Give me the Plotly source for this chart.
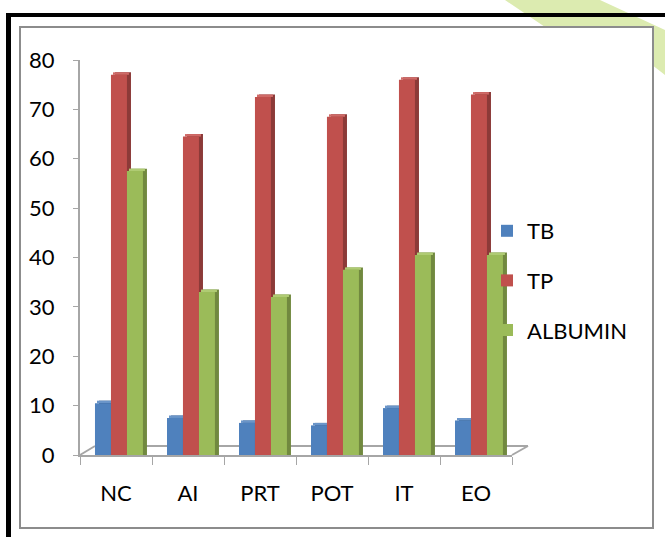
import plotly.graph_objects as go

# Liver function markers per treatment group
groups = ["NC", "AI", "PRT", "POT", "IT", "EO"]
tb = [10.5, 7.5, 6.5, 6.0, 9.5, 7.0]
tp = [77.0, 64.5, 72.5, 68.5, 76.0, 73.0]
albumin = [57.5, 33.0, 32.0, 37.5, 40.5, 40.5]
series_names = ["TB", "TP", "ALBUMIN"]
y_ticks = [0, 10, 20, 30, 40, 50, 60, 70, 80]

FRONT = ["#4F81BD", "#C0504D", "#9BBB59"]
SIDE = ["#385D8A", "#8C3A38", "#71893F"]
TOP = ["#6A95C9", "#CF6A67", "#AFCB73"]

# canvas geometry (px)
W, H = 665, 537
L, R, T, B = 80, 512, 60, 455
PW, PH = R - L, B - T


def px(x):
    return (x - L) / PW


def py(y):
    return (B - y) / PH


BAR_W = 0.222
OFFSETS = [-0.292, -0.070, 0.152]
DEPTH_X = 0.056
DEPTH_Y = 0.5

fig = go.Figure()
for i, (name, vals) in enumerate(zip(series_names, [tb, tp, albumin])):
    # right-hand side face
    fig.add_trace(go.Bar(
        x=groups, y=[v + DEPTH_Y for v in vals], width=BAR_W,
        offset=OFFSETS[i] + DEPTH_X, marker=dict(color=SIDE[i], line_width=0),
        showlegend=False, hoverinfo="skip", legendgroup=name,
    ))
    # top face
    fig.add_trace(go.Bar(
        x=groups, y=[DEPTH_Y] * len(vals), base=vals, width=BAR_W,
        offset=OFFSETS[i] + DEPTH_X / 2, marker=dict(color=TOP[i], line_width=0),
        showlegend=False, hoverinfo="skip", legendgroup=name,
    ))
    # front face
    fig.add_trace(go.Bar(
        x=groups, y=vals, width=BAR_W, offset=OFFSETS[i], name=name,
        marker=dict(color=FRONT[i], line_width=0), legendgroup=name,
    ))

shapes = [
    # leaf watermark behind the frame
    dict(type="path", xref="paper", yref="paper", layer="below",
         path=f"M {px(505)} {py(0)} L {px(600)} {py(0)} L {px(665)} {py(30)} "
              f"L {px(665)} {py(75)} L {px(620)} {py(40)} L {px(545)} {py(27)} Z",
         fillcolor="#DCEBB0", line_width=0),
    # white chart box with grey border
    dict(type="rect", xref="paper", yref="paper", layer="below",
         x0=px(20), x1=px(653), y0=py(528), y1=py(27),
         fillcolor="white", line=dict(color="#8C8C8C", width=2)),
    # black outer frame (left and top)
    dict(type="line", xref="paper", yref="paper",
         x0=px(8.5), x1=px(8.5), y0=py(13), y1=py(540),
         line=dict(color="black", width=5)),
    dict(type="line", xref="paper", yref="paper",
         x0=px(6), x1=px(670), y0=py(15), y1=py(15),
         line=dict(color="black", width=4)),
    # floor of the 3D plot
    dict(type="line", xref="paper", yref="paper", layer="below",
         x0=px(80), x1=px(95), y0=py(455), y1=py(446),
         line=dict(color="#A6A6A6", width=2)),
    dict(type="line", xref="paper", yref="paper", layer="below",
         x0=px(95), x1=px(528), y0=py(446), y1=py(446),
         line=dict(color="#A6A6A6", width=2)),
    dict(type="line", xref="paper", yref="paper", layer="below",
         x0=px(512), x1=px(528), y0=py(455), y1=py(446),
         line=dict(color="#A6A6A6", width=2)),
]

fig.update_layout(
    width=W, height=H,
    margin=dict(l=L, r=W - R, t=T, b=H - B),
    paper_bgcolor="white", plot_bgcolor="rgba(0,0,0,0)",
    barmode="overlay",
    font=dict(family="Lato", size=22, color="black"),
    shapes=shapes,
    legend=dict(
        x=px(487), xanchor="left", y=py(210), yanchor="top",
        font=dict(size=22), traceorder="grouped", tracegroupgap=18,
        bgcolor="rgba(0,0,0,0)",
    ),
    xaxis=dict(
        type="category", range=[-0.5, 5.5], showline=True,
        linecolor="#A6A6A6", linewidth=2, ticks="outside", ticklen=8,
        tickcolor="#A6A6A6", tickson="boundaries", showgrid=False,
        ticklabelstandoff=18, tickfont=dict(size=22),
    ),
    yaxis=dict(
        range=[0, 80], tickvals=y_ticks, showline=True, linecolor="#A6A6A6",
        linewidth=2, ticks="outside", ticklen=5, tickcolor="#A6A6A6",
        showgrid=False, zeroline=False, ticklabelstandoff=14,
        tickfont=dict(size=22),
    ),
)

fig.write_html("out.html")
